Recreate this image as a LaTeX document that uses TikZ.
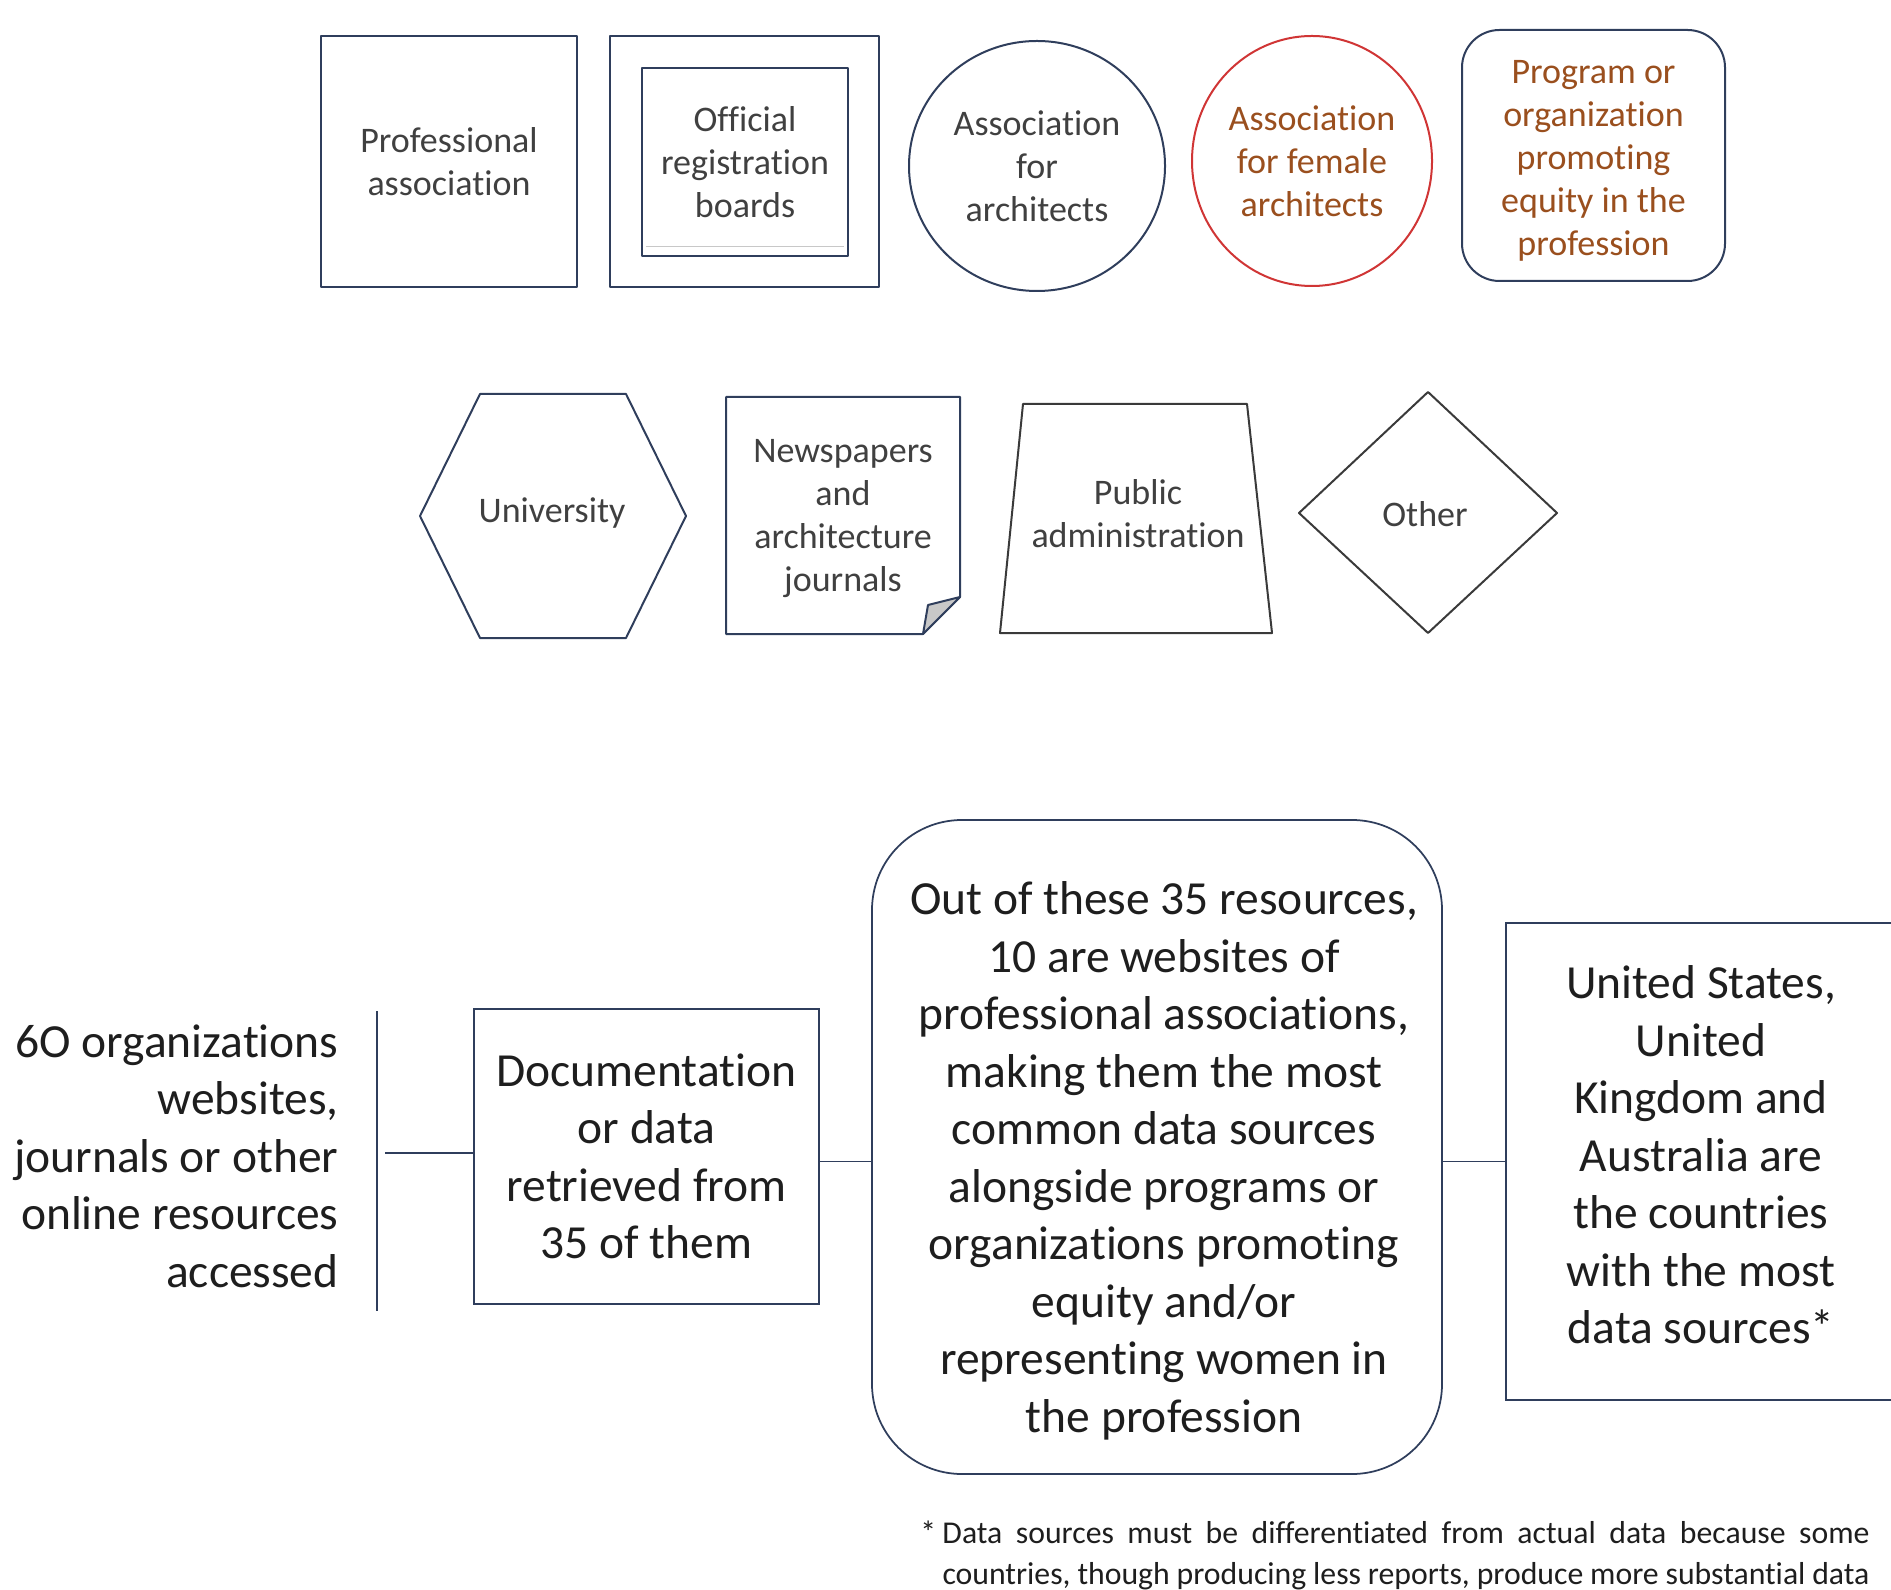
\documentclass[tikz,border=0pt]{standalone}
\usepackage{fontspec}
\setmainfont{Carlito}[Ligatures=NoCommon]
\usetikzlibrary{shapes.geometric}

\begin{document}
\begin{tikzpicture}[x=0.4pt,y=-0.4pt,
  shape line/.style={draw=navyLine,line width=0.8pt,line join=round},
  grey line/.style={draw=darkLine,line width=0.8pt,line join=round},
  top label/.style={text=labelGray,align=center,inner sep=0pt,font=\fontsize{14.4}{17.2}\selectfont},
  flow label/.style={text=flowText,align=center,inner sep=0pt,font=\fontsize{19}{23}\selectfont},
  flow box/.style={draw=navyLine,line width=0.7pt,inner sep=0pt}]
\definecolor{navyLine}{HTML}{2F3E5C}
\definecolor{darkLine}{HTML}{3A3A3A}
\definecolor{labelGray}{HTML}{404040}
\definecolor{labelBrown}{HTML}{9A4F1E}
\definecolor{circleRed}{HTML}{D03535}
\definecolor{foldGray}{HTML}{C8C8C8}
\definecolor{flowText}{HTML}{1E1E1E}
\useasboundingbox (0,0) rectangle (1891,1590);
\clip (0,0) rectangle (1891,1590);

\node[shape line,top label,minimum width=102.4pt,minimum height=100.4pt] (prof) at (449,161.5) {Professional\\association};

\node[shape line,minimum width=107.6pt,minimum height=100.4pt] (regout) at (744.5,161.5) {};
\node[shape line,top label,minimum width=82.4pt,minimum height=75.2pt] (reg) at (745,162) {Official\\registration\\boards};
\draw[draw=foldGray,line width=0.4pt] (646,247) -- (844,247);

\node[shape line,top label,ellipse,minimum width=102.4pt,minimum height=100pt] (assoc) at (1037,166) {Association\\for\\architects};

\node[shape line,top label,ellipse,draw=circleRed,text=labelBrown,minimum width=96pt,minimum height=100pt] (female) at (1312,161) {Association\\for female\\architects};

\node[shape line,rounded corners=15pt,minimum width=105.2pt,minimum height=100.4pt] (equity) at (1593.5,155.5) {};
\node[top label,text=labelBrown] (equitytext) at (1593.5,161) {Program or\\organization\\promoting\\equity in the\\profession};

\draw[shape line] (420,516) -- (480,394) -- (626,394) -- (686,516) -- (626,638) -- (480,638) -- cycle;
\node[top label] (uni) at (552,513) {University};

\draw[shape line] (726,397) -- (960,397) -- (960,597) -- (923,634) -- (726,634) -- cycle;
\draw[shape line,fill=foldGray] (923,634) -- (928,605) -- (960,597) -- cycle;
\node[top label] (news) at (843,519) {Newspapers\\and\\architecture\\journals};

\draw[grey line] (1023,404) -- (1247,404) -- (1272,633) -- (1000,633) -- cycle;
\node[top label] (public) at (1138,514) {Public\\administration};

\draw[grey line] (1299,513) -- (1428,392) -- (1557,513) -- (1428,633) -- cycle;
\node[top label] (other) at (1425,514) {Other};

\node[flow label,align=right,anchor=east] (src) at (339,1156) {6O organizations\\websites,\\journals or other\\online resources\\accessed};
\draw[draw=navyLine,line width=0.7pt] (377,1011) -- (377,1311);
\coordinate (srcend) at (385,1153);

\node[flow box,flow label,minimum width=138pt,minimum height=118pt] (doc) at (646.5,1156.5) {Documentation\\or data\\retrieved from\\35 of them};

\node[flow box,rounded corners=36pt,minimum width=228pt,minimum height=261.6pt] (out) at (1157,1147) {};
\node[flow label] (outtext) at (1164,1161) {Out of these 35 resources,\\10 are websites of\\professional associations,\\making them the most\\common data sources\\alongside programs or\\organizations promoting\\equity and/or\\representing women in\\the profession};

\node[flow box,minimum width=157.6pt,minimum height=190.8pt] (us) at (1703,1161.5) {};
\node[flow label] (ustext) at (1701,1155) {United States,\\United\\Kingdom and\\Australia are\\the countries\\with the most\\data sources*};

\draw[draw=navyLine,line width=0.7pt] (srcend) -- (srcend -| doc.west);
\draw[draw=navyLine,line width=0.7pt] (doc.east |- us.west) -- (out.west |- us.west);
\draw[draw=navyLine,line width=0.7pt] (us.west -| out.east) -- (us.west);

\node[anchor=north west,inner sep=0pt,text width=370.8pt,align=justify,text=flowText,font=\fontsize{12.7}{16.4}\selectfont] (note) at (942,1520) {\parfillskip=0pt\leavevmode\llap{*\hspace{2.5pt}}Data sources must be differentiated from actual data because some\linebreak countries, though producing less reports, produce more substantial data};
\end{tikzpicture}
\end{document}
